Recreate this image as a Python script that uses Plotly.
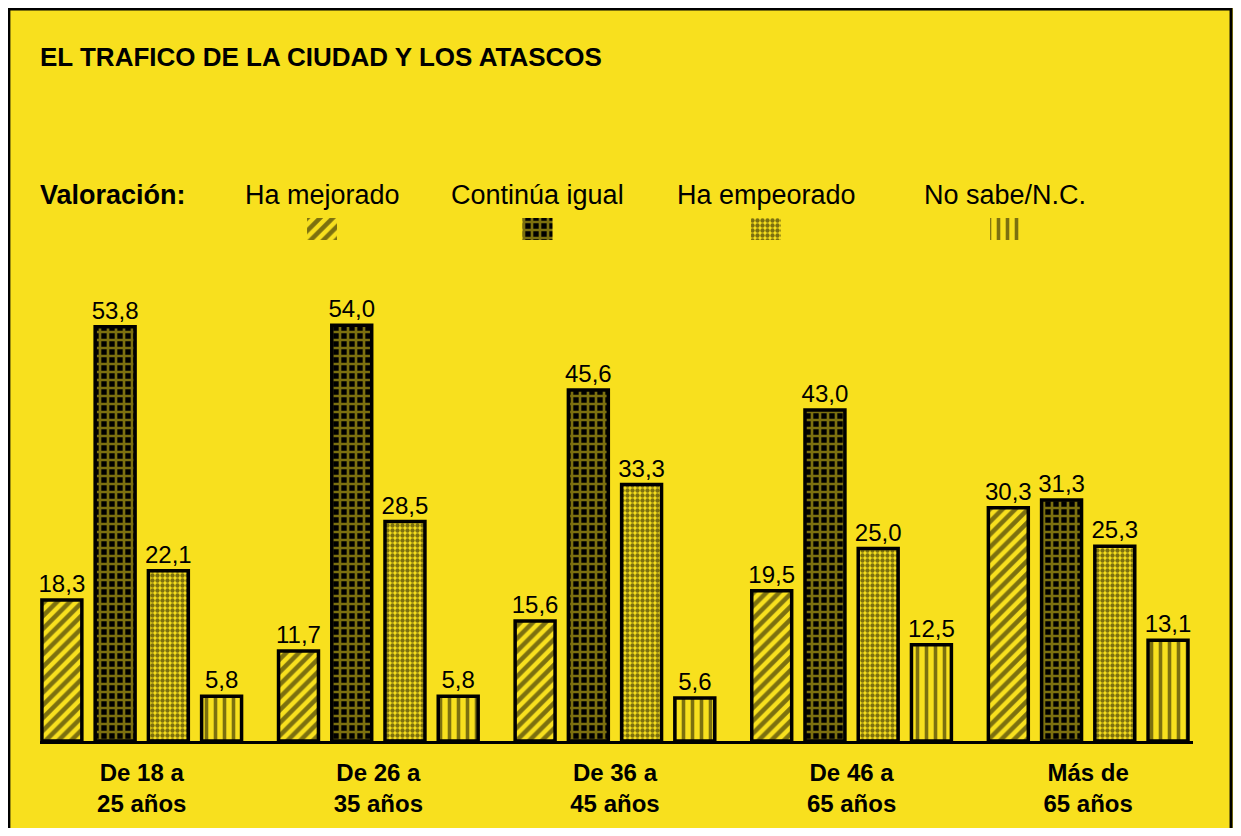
import plotly.graph_objects as go

# Data
grupos = ["De 18 a<br>25 años", "De 26 a<br>35 años", "De 36 a<br>45 años",
          "De 46 a<br>65 años", "Más de<br>65 años"]
series = ["Ha mejorado", "Continúa igual", "Ha empeorado", "No sabe/N.C."]
ha_mejorado = [18.3, 11.7, 15.6, 19.5, 30.3]
continua_igual = [53.8, 54.0, 45.6, 43.0, 31.3]
ha_empeorado = [22.1, 28.5, 33.3, 25.0, 25.3]
no_sabe = [5.8, 5.8, 5.6, 12.5, 13.1]

valores = [ha_mejorado, continua_igual, ha_empeorado, no_sabe]

YELLOW = "#F8E01E"
FONT = "Liberation Sans, Arial"

# pattern styles per series
patterns = [
    dict(shape="/", fgcolor="black", bgcolor=YELLOW, size=9, solidity=0.5),
    dict(shape="+", fgcolor=YELLOW, bgcolor="black", size=8, solidity=0.55),
    dict(shape=".", fgcolor="black", bgcolor=YELLOW, size=5, solidity=0.6),
    dict(shape="|", fgcolor="black", bgcolor=YELLOW, size=9, solidity=0.4),
]

fig = go.Figure()

for name, vals, pat in zip(series, valores, patterns):
    fig.add_trace(go.Bar(
        x=grupos,
        y=vals,
        name=name,
        text=[f"{v:.1f}".replace(".", ",") for v in vals],
        textposition="outside",
        constraintext="none",
        textfont=dict(size=24, color="black", family=FONT),
        cliponaxis=False,
        marker=dict(color=YELLOW, pattern=pat, line=dict(color="black", width=3.5)),
        showlegend=False,
    ))

# legend swatches (below the legend labels)
leg_x = [0.2446, 0.4315, 0.6297, 0.837]
fig.add_trace(go.Bar(
    x=leg_x,
    y=[1] * len(series),
    width=0.026,
    xaxis="x2",
    yaxis="y2",
    marker=dict(
        color=YELLOW,
        line=dict(width=0),
        pattern=dict(
            shape=[p["shape"] for p in patterns],
            fgcolor=[p["fgcolor"] for p in patterns],
            bgcolor=[p["bgcolor"] for p in patterns],
            size=[p["size"] for p in patterns],
            solidity=[p["solidity"] for p in patterns],
        ),
    ),
    showlegend=False,
    hoverinfo="skip",
))

annotations = [
    dict(text="<b>EL TRAFICO DE LA CIUDAD Y LOS ATASCOS</b>", x=-0.002, y=0.933,
         xref="paper", yref="paper", xanchor="left", yanchor="middle", showarrow=False,
         font=dict(size=26, color="black", family=FONT)),
    dict(text="<b>Valoración:</b>", x=-0.002, y=0.745,
         xref="paper", yref="paper", xanchor="left", yanchor="middle", showarrow=False,
         font=dict(size=27, color="black", family=FONT)),
]
for name, lx in zip(series, leg_x):
    annotations.append(dict(text=name, x=lx, y=0.745, xref="paper", yref="paper",
                            xanchor="center", yanchor="middle", showarrow=False,
                            font=dict(size=27, color="black", family=FONT)))

fig.update_layout(
    width=1225,
    height=820,
    margin=dict(l=32, r=40, t=0, b=87),
    paper_bgcolor=YELLOW,
    plot_bgcolor=YELLOW,
    barmode="group",
    bargap=0.1,
    bargroupgap=0.25,
    annotations=annotations,
    xaxis=dict(
        type="category",
        categoryorder="array",
        categoryarray=grupos,
        range=[-0.43, 4.443],
        showline=True,
        linecolor="black",
        linewidth=3,
        showgrid=False,
        ticks="",
        tickfont=dict(size=24, color="black", family=FONT),
        ticklabelstandoff=8,
    ),
    yaxis=dict(range=[0, 95.2], visible=False, showgrid=False),
    xaxis2=dict(domain=[0, 1], range=[0, 1], anchor="y2", visible=False),
    yaxis2=dict(domain=[0.6835, 0.7135], range=[0, 1], anchor="x2", visible=False),
    shapes=[dict(type="rect", xref="paper", yref="paper",
                 x0=-0.027, x1=1.033, y0=-0.2, y1=0.9986,
                 line=dict(color="black", width=3), fillcolor="rgba(0,0,0,0)")],
)

# bold category labels
fig.update_xaxes(ticktext=[f"<b>{g}</b>" for g in grupos], tickvals=grupos)

fig.write_html("out.html")
